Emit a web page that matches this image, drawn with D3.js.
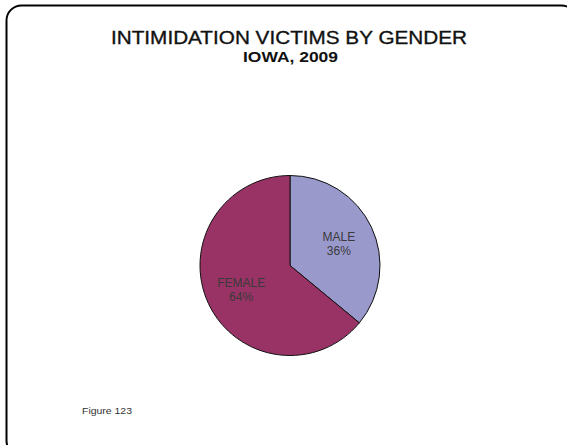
<!DOCTYPE html>
<html>
<head>
<meta charset="utf-8">
<script src="https://cdn.jsdelivr.net/npm/d3@7"></script>
<style>
  body { margin: 0; background: #fff; }
  text { font-family: "Liberation Sans", Arial, sans-serif; }
</style>
</head>
<body>
<svg width="567" height="445"></svg>
<script>
var svg = d3.select('svg');

// chart data
var categories = ['MALE', 'FEMALE'];
var shares = [36, 64];
var colors = ['#9999cc', '#993366'];

// frame with rounded corners (runs off the right and bottom edge)
svg.append('rect')
  .attr('x', 6.5)
  .attr('y', 5.5)
  .attr('width', 570)
  .attr('height', 450)
  .attr('rx', 15)
  .attr('fill', 'none')
  .attr('stroke', '#000')
  .attr('stroke-width', 2);

// titles (the original is stretched sideways a little)
svg.append('text')
  .attr('x', 111).attr('y', 44)
  .attr('font-size', 19)
  .attr('fill', '#111')
  .attr('stroke', '#111')
  .attr('stroke-width', 0.35)
  .attr('textLength', 356)
  .attr('lengthAdjust', 'spacingAndGlyphs')
  .text('INTIMIDATION VICTIMS BY GENDER');

svg.append('text')
  .attr('x', 243).attr('y', 62)
  .attr('font-size', 14)
  .attr('font-weight', 'bold')
  .attr('fill', '#111')
  .attr('textLength', 95)
  .attr('lengthAdjust', 'spacingAndGlyphs')
  .text('IOWA, 2009');

// pie
var cx = 290, cy = 265.5, r = 90;
var pie = d3.pie().sort(null).value(d => d.value);
var arc = d3.arc().innerRadius(0).outerRadius(r);
var labelArc = d3.arc().innerRadius(r * 0.6).outerRadius(r * 0.6);

var data = categories.map((c, i) => ({ name: c, value: shares[i] }));

var g = svg.append('g').attr('transform', 'translate(' + cx + ',' + cy + ')');

g.selectAll('path')
  .data(pie(data))
  .join('path')
    .attr('d', arc)
    .attr('fill', (d, i) => colors[i])
    .attr('stroke', '#111')
    .attr('stroke-width', 1);

var labels = g.selectAll('text.lbl')
  .data(pie(data))
  .join('text')
    .attr('class', 'lbl')
    .attr('transform', d => 'translate(' + labelArc.centroid(d) + ')')
    .attr('text-anchor', 'middle')
    .attr('font-size', 12)
    .attr('fill', '#3a3a3a');

labels.append('tspan')
  .attr('x', 0).attr('dy', '-0.15em')
  .text(d => d.data.name);
labels.append('tspan')
  .attr('x', 0).attr('dy', '1.2em')
  .text(d => d.data.value + '%');

// footnote
svg.append('text')
  .attr('x', 82).attr('y', 414)
  .attr('font-size', 9)
  .attr('fill', '#333')
  .attr('textLength', 50)
  .attr('lengthAdjust', 'spacingAndGlyphs')
  .text('Figure 123');
</script>
</body>
</html>
